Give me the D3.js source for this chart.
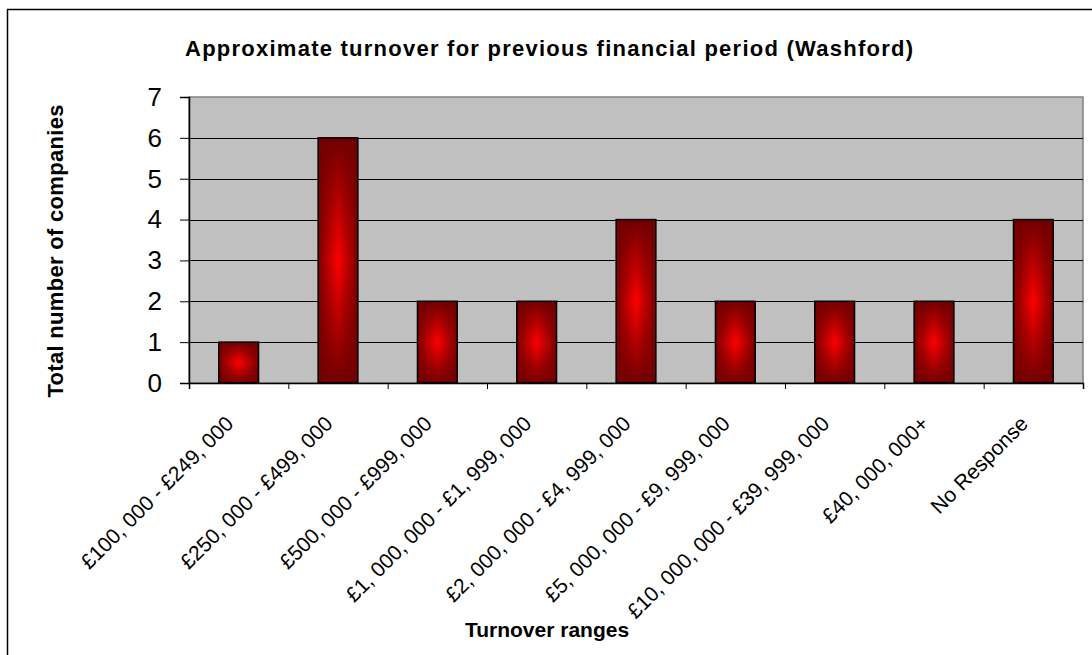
<!DOCTYPE html>
<html>
<head>
<meta charset="utf-8">
<script src="https://cdn.jsdelivr.net/npm/d3@7"></script>
<style>
  body { margin: 0; background: #fff; }
  text { font-family: Arial, "Liberation Sans", sans-serif; }
</style>
</head>
<body>
<div id="chart"></div>
<script>
// turnover ranges and number of companies in each
const categories = [
    '£100, 000 - £249, 000',
    '£250, 000 - £499, 000',
    '£500, 000 - £999, 000',
    '£1, 000, 000 - £1, 999, 000',
    '£2, 000, 000 - £4, 999, 000',
    '£5, 000, 000 - £9, 999, 000',
    '£10, 000, 000 - £39, 999, 000',
    '£40, 000, 000+',
    'No Response'
];
const counts = [1, 6, 2, 2, 4, 2, 2, 2, 4];
const yTicks = [0, 1, 2, 3, 4, 5, 6, 7];

const titleText = 'Approximate turnover for previous financial period (Washford)';
const xTitle = 'Turnover ranges';
const yTitle = 'Total number of companies';

const width = 1092;
const height = 655;
const margin = { top: 97, right: 9, bottom: 272, left: 189 };

const svg = d3.select('#chart')
    .append('svg')
    .attr('width', width)
    .attr('height', height);

// gradients: dark edges, bright red centre
const defs = svg.append('defs');
const hGrad = defs.append('linearGradient')
    .attr('id', 'hgrad')
    .attr('x1', 0).attr('x2', 1).attr('y1', 0).attr('y2', 0);
hGrad.append('stop').attr('offset', '0%').attr('stop-color', '#7a0000');
hGrad.append('stop').attr('offset', '50%').attr('stop-color', '#ff0000');
hGrad.append('stop').attr('offset', '100%').attr('stop-color', '#7a0000');

const vGrad = defs.append('linearGradient')
    .attr('id', 'vgrad')
    .attr('x1', 0).attr('x2', 0).attr('y1', 0).attr('y2', 1);
vGrad.append('stop').attr('offset', '0%').attr('stop-color', '#700000').attr('stop-opacity', 1);
vGrad.append('stop').attr('offset', '50%').attr('stop-color', '#700000').attr('stop-opacity', 0);
vGrad.append('stop').attr('offset', '100%').attr('stop-color', '#700000').attr('stop-opacity', 1);

// outer chart border
svg.append('rect')
    .attr('x', 7.5).attr('y', 9.5)
    .attr('width', width).attr('height', height)
    .attr('fill', 'none')
    .attr('stroke', '#000')
    .attr('stroke-width', 1.5);

const x = d3.scaleBand()
    .domain(d3.range(categories.length))
    .range([margin.left, width - margin.right])
    .paddingInner(0.6)
    .paddingOuter(0.3);

const y = d3.scaleLinear()
    .domain([0, 7])
    .range([height - margin.bottom, margin.top]);

// plot background
svg.append('rect')
    .attr('x', margin.left)
    .attr('y', y(7))
    .attr('width', width - margin.right - margin.left)
    .attr('height', y(0) - y(7))
    .attr('fill', '#c0c0c0')
    .attr('stroke', '#808080')
    .attr('stroke-width', 1.5);

// gridlines
svg.append('g')
    .selectAll('line')
    .data(yTicks.slice(1, -1))
    .join('line')
    .attr('x1', margin.left)
    .attr('x2', width - margin.right)
    .attr('y1', d => Math.round(y(d)) + 0.5)
    .attr('y2', d => Math.round(y(d)) + 0.5)
    .attr('stroke', '#000')
    .attr('stroke-width', 1.2);

// bars
const bars = svg.append('g').selectAll('g')
    .data(counts)
    .join('g');

bars.append('rect')
    .attr('x', (d, i) => x(i))
    .attr('y', d => y(d))
    .attr('width', x.bandwidth())
    .attr('height', d => y(0) - y(d))
    .attr('fill', 'url(#hgrad)');

bars.append('rect')
    .attr('x', (d, i) => x(i))
    .attr('y', d => y(d))
    .attr('width', x.bandwidth())
    .attr('height', d => y(0) - y(d))
    .attr('fill', 'url(#vgrad)')
    .attr('stroke', '#000')
    .attr('stroke-width', 1.5);

// x axis
const xAxis = (g) => {
    g.attr('transform', `translate(0,${y(0)})`)
        .call(d3.axisBottom(d3.scaleLinear().domain([0, 9]).range(x.range()))
            .tickValues(d3.range(0, 10))
            .tickSize(6)
            .tickFormat(''));
    g.select('.domain').attr('stroke', '#000').attr('stroke-width', 1.5);
    g.selectAll('.tick line').attr('stroke', '#000');
};
svg.append('g').call(xAxis);

svg.append('g')
    .selectAll('text')
    .data(categories)
    .join('text')
    .attr('transform', (d, i) => `translate(${x(i) + x.bandwidth() / 2 - 4},${y(0) + 42}) rotate(-45)`)
    .attr('text-anchor', 'end')
    .attr('font-size', '21px')
    .attr('fill', '#000')
    .text(d => d);

// y axis
const yAxis = (g) => {
    g.attr('transform', `translate(${margin.left},0)`)
        .call(d3.axisLeft(y).tickValues(yTicks).tickFormat(d3.format('d')).tickSize(9).tickPadding(18));
    g.select('.domain').attr('stroke', '#000').attr('stroke-width', 1.5);
    g.selectAll('.tick line').attr('stroke', '#000');
    g.selectAll('.tick text')
        .attr('font-size', '26px')
        .attr('font-family', 'Arial, "Liberation Sans", sans-serif')
        .attr('fill', '#000');
};
svg.append('g').call(yAxis);

// titles
svg.append('text')
    .attr('x', 549)
    .attr('y', 56)
    .attr('text-anchor', 'middle')
    .attr('font-size', '22px')
    .attr('font-weight', 'bold')
    .attr('textLength', 728)
    .attr('lengthAdjust', 'spacing')
    .text(titleText);

svg.append('text')
    .attr('x', 547)
    .attr('y', 637)
    .attr('text-anchor', 'middle')
    .attr('font-size', '21px')
    .attr('font-weight', 'bold')
    .text(xTitle);

svg.append('text')
    .attr('transform', 'translate(63,251) rotate(-90)')
    .attr('text-anchor', 'middle')
    .attr('font-size', '22px')
    .attr('font-weight', 'bold')
    .attr('textLength', 293)
    .attr('lengthAdjust', 'spacing')
    .text(yTitle);
</script>
</body>
</html>
